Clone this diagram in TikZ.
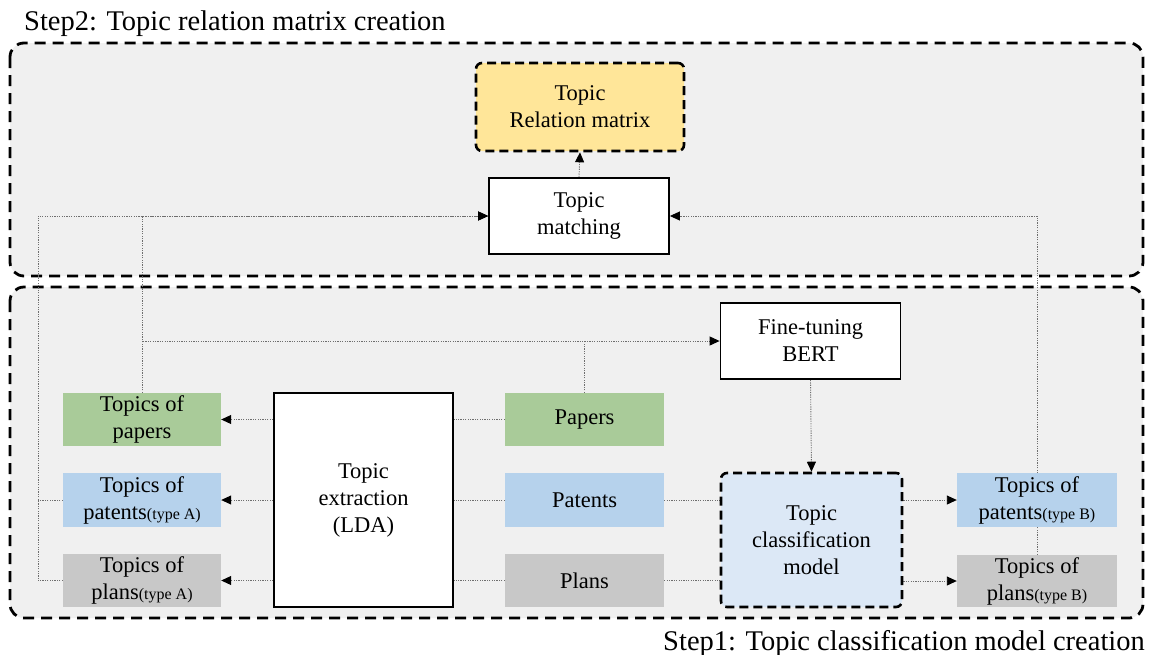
\documentclass[tikz,border=0pt]{standalone}
\usepackage{fontspec}
\setmainfont{Liberation Serif}
\usetikzlibrary{arrows.meta}
\pgfdeclarelayer{back}
\pgfdeclarelayer{mid}
\pgfsetlayers{back,mid,main}
\definecolor{bgray}{RGB}{240,240,240}
\definecolor{cgreen}{RGB}{169,203,153}
\definecolor{cblue}{RGB}{182,210,236}
\definecolor{cgrey}{RGB}{200,200,200}
\definecolor{clblue}{RGB}{220,232,246}
\definecolor{cyellow}{RGB}{255,230,153}
\definecolor{cline}{RGB}{110,110,110}
\newcommand\tsub[1]{{\fontsize{16}{16}\selectfont #1}}
\begin{document}
\begin{tikzpicture}[x=1pt,y=-1pt,
  every node/.style={font=\fontsize{22.5}{27}\selectfont, align=center, inner sep=0pt},
  solidbox/.style={draw=black, line width=1.8pt, fill=white},
  dashbox/.style={draw=black, line width=2.6pt, dash pattern=on 9pt off 5pt, rounded corners=6pt},
  flatbox/.style={draw=none},
  conn/.style={draw=cline, line width=0.9pt, dash pattern=on 1.2pt off 1.2pt},
  arr/.style={conn, -{Triangle[length=10pt,width=9pt,color=black]}},
  region/.style={draw=black, line width=2.8pt, dash pattern=on 11pt off 7pt, rounded corners=14pt, fill=bgray},
  title/.style={font=\fontsize{28.5}{30}\selectfont}
]
\useasboundingbox (0,0) rectangle (1153,654);

% nodes
\node[dashbox, fill=cyellow, minimum width=208pt, minimum height=88pt] (rel) at (580,107) {Topic\\Relation matrix};
\node[solidbox, minimum width=180pt, minimum height=76pt] (match) at (579,216) {Topic\\matching};
\node[solidbox, minimum width=180pt, minimum height=76pt] (bert) at (810.5,341) {Fine-tuning\\BERT};
\node[solidbox, minimum width=179pt, minimum height=214pt] (lda) at (363.5,500) {Topic\\extraction\\(LDA)};
\node[flatbox, fill=cgreen, minimum width=158pt, minimum height=53pt] (tpap) at (142,419.5) {Topics of\\papers};
\node[flatbox, fill=cblue, minimum width=158pt, minimum height=54pt] (tpatA) at (142,500) {Topics of\\patents\tsub{(type A)}};
\node[flatbox, fill=cgrey, minimum width=158pt, minimum height=53pt] (tplaA) at (142,580.5) {Topics of\\plans\tsub{(type A)}};
\node[flatbox, fill=cgreen, minimum width=159pt, minimum height=53pt] (pap) at (584.5,419.5) {Papers};
\node[flatbox, fill=cblue, minimum width=159pt, minimum height=54pt] (pat) at (584.5,500) {Patents};
\node[flatbox, fill=cgrey, minimum width=159pt, minimum height=53pt] (pla) at (584.5,580.5) {Plans};
\node[dashbox, fill=clblue, minimum width=181pt, minimum height=134pt] (cls) at (811.5,540) {Topic\\classification\\model};
\node[flatbox, fill=cblue, minimum width=160pt, minimum height=54pt] (tpatB) at (1037,500) {Topics of\\patents\tsub{(type B)}};
\node[flatbox, fill=cgrey, minimum width=160pt, minimum height=52pt] (tplaB) at (1037,581) {Topics of\\plans\tsub{(type B)}};

\node[title, anchor=base west] (t2) at (24,30) {Step2: Topic relation matrix creation};
\node[title, anchor=base east] (t1) at (1145,650) {Step1: Topic classification model creation};

\coordinate (L) at (38,216);

\begin{pgfonlayer}{back}
\draw[region] (10,43) rectangle (1143,276);
\draw[region] (10,287) rectangle (1143,618);
\end{pgfonlayer}

\begin{pgfonlayer}{mid}
\draw[arr] (match.north) -- (rel.south);
\draw[arr] (tplaA.west) -| (L) -- (match.west);
\draw[conn] (tpatA.west) -- (tpatA.west -| L);
\draw[arr] (tpap.north) |- (match.west);
\draw[arr] (tpap.north) |- (bert.west);
\draw[conn] (pap.north) -- (pap.north |- bert.west);
\draw[arr] (lda.west |- tpap.east) -- (tpap.east);
\draw[arr] (lda.west |- tpatA.east) -- (tpatA.east);
\draw[arr] (lda.west |- tplaA.east) -- (tplaA.east);
\draw[conn] (pap.west) -- (lda.east |- pap.west);
\draw[conn] (pat.west) -- (lda.east |- pat.west);
\draw[conn] (pla.west) -- (lda.east |- pla.west);
\draw[arr] (bert.south) -- (cls.north);
\draw[conn] (pat.east) -- (cls.west |- pat.east);
\draw[conn] (pla.east) -- (cls.west |- pla.east);
\draw[arr] (cls.east |- tpatB.west) -- (tpatB.west);
\draw[arr] (cls.east |- tplaB.west) -- (tplaB.west);
\draw[arr] (tplaB.north) |- (match.east);
\end{pgfonlayer}
\end{tikzpicture}
\end{document}
